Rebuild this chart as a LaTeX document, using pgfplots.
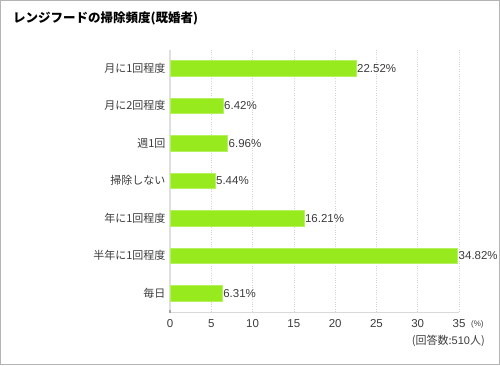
\documentclass[border=0pt]{standalone}
\usepackage{pgfplots}
\pgfplotsset{compat=1.18}
\usepackage{fontspec}
\setmainfont{Noto Sans CJK JP}
\newfontfamily\lat{Liberation Sans}
\definecolor{barg}{RGB}{150,234,30}
\definecolor{txt}{RGB}{60,60,60}
\definecolor{frame}{RGB}{180,180,180}
\begin{document}
\begin{tikzpicture}[x=1pt,y=1pt]
\draw[frame, line width=1pt] (0.5,0.5) rectangle (499.5,364.5);
\node[anchor=west, inner sep=0pt, font=\bfseries\fontsize{12.5}{14}\selectfont] at (13,347) {レンジフードの掃除頻度(既婚者)};
\begin{axis}[
  at={(170pt,53pt)}, anchor=south west,
  scale only axis, width=289pt, height=262.5pt,
  xmin=0, xmax=35, ymin=-0.5, ymax=6.5, y dir=reverse,
  xtick={0,5,...,35}, ytick={0,...,6},
  yticklabels={月に1回程度,月に2回程度,週1回,掃除しない,年に1回程度,半年に1回程度,毎日},
  xmajorgrids, major grid style={dotted, gray!35, line width=0.6pt},
  axis x line*=bottom, axis y line*=left,
  x axis line style={gray!30, line width=0.8pt, -},
  y axis line style={gray!25, line width=2pt, -},
  major tick length=0pt,
  tick label style={font=\fontsize{11}{13}\selectfont, text=txt},
  xticklabel style={font=\lat\fontsize{11.5}{13}\selectfont, yshift=-4pt},
  /pgf/number format/assume math mode=true,
  yticklabel style={xshift=-1pt},
  clip=false,
  nodes near coords, point meta=explicit symbolic,
  every node near coord/.style={font=\lat\fontsize{11.5}{13}\selectfont, text=txt, anchor=west, inner sep=1pt},
]
\addplot[xbar, bar width=15.5pt, fill=barg, draw=barg!70!white] coordinates {
 (22.52,0) [22.52\%]
 (6.42,1) [6.42\%]
 (6.96,2) [6.96\%]
 (5.44,3) [5.44\%]
 (16.21,4) [16.21\%]
 (34.82,5) [34.82\%]
 (6.31,6) [6.31\%]
};
\end{axis}
\draw[gray!70, line width=1.5pt] (170,52) -- (170,55);
\node[anchor=west, inner sep=0pt, font=\lat\fontsize{8}{9}\selectfont, text=txt] at (471,41) {(\%)};
\node[anchor=east, inner sep=0pt, font=\fontsize{11}{13}\selectfont, text=txt] at (485,24) {(回答数:{\lat 510}人)};
\end{tikzpicture}
\end{document}
